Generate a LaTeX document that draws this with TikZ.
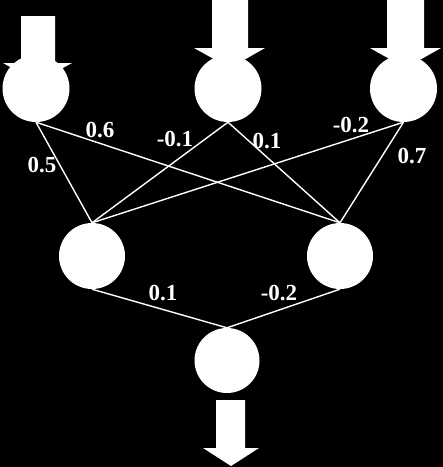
\documentclass[tikz,border=0pt]{standalone}
\usepackage{fontspec}
\setmainfont{Liberation Serif}
\begin{document}
\begin{tikzpicture}[x=1pt,y=-1pt,
  neuron/.style={circle,fill=white,draw=none,inner sep=0pt},
  wire/.style={draw=white,line width=1.4pt},
  wlabel/.style={text=white,inner sep=0pt,font=\fontsize{23}{23}\selectfont\bfseries},
  blockarrow/.style={fill=white,draw=none}]
\fill[black] (0,0) rectangle (443,467);
\useasboundingbox (0,0) rectangle (443,467);
% neurons
\node[neuron,minimum size=67pt] (i1) at (36,88.5) {};
\node[neuron,minimum size=67pt] (i2) at (228,88.5) {};
\node[neuron,minimum size=67pt] (i3) at (403.5,88.5) {};
\node[neuron,minimum size=66pt] (h1) at (92,256) {};
\node[neuron,minimum size=66pt] (h2) at (340,256) {};
\node[neuron,minimum size=65pt] (o1) at (227,360.5) {};
% connectors
\draw[wire] (i1.south) -- (h1.north);
\draw[wire] (i1.south) -- (h2.north);
\draw[wire] (i2.south) -- (h1.north);
\draw[wire] (i2.south) -- (h2.north);
\draw[wire] (i3.south) -- (h1.north);
\draw[wire] (i3.south) -- (h2.north);
\draw[wire] (h1.south) -- (o1.north);
\draw[wire] (h2.south) -- (o1.north);
% block arrows
\fill[blockarrow] (21,16) -- (55,16) -- (55,63) -- (72,63) -- (37.5,82) -- (3,63) -- (21,63) -- cycle;
\fill[blockarrow] (212,-1) -- (248,-1) -- (248,48) -- (265,48) -- (230,68) -- (194,48) -- (212,48) -- cycle;
\fill[blockarrow] (387,-1) -- (424,-1) -- (424,48) -- (441,48) -- (405.5,68) -- (370,48) -- (387,48) -- cycle;
\fill[blockarrow] (216,400) -- (245,400) -- (245,448) -- (259,448) -- (231,466) -- (203,448) -- (216,448) -- cycle;
% weights
\node[wlabel] (w11) at (42,165) {0.5};
\node[wlabel] (w12) at (100,130) {0.6};
\node[wlabel] (w21) at (175,139) {-0.1};
\node[wlabel] (w22) at (267,141) {0.1};
\node[wlabel] (w31) at (351,125) {-0.2};
\node[wlabel] (w32) at (412,156) {0.7};
\node[wlabel] (v1) at (163,293) {0.1};
\node[wlabel] (v2) at (279,293) {-0.2};
\end{tikzpicture}
\end{document}
